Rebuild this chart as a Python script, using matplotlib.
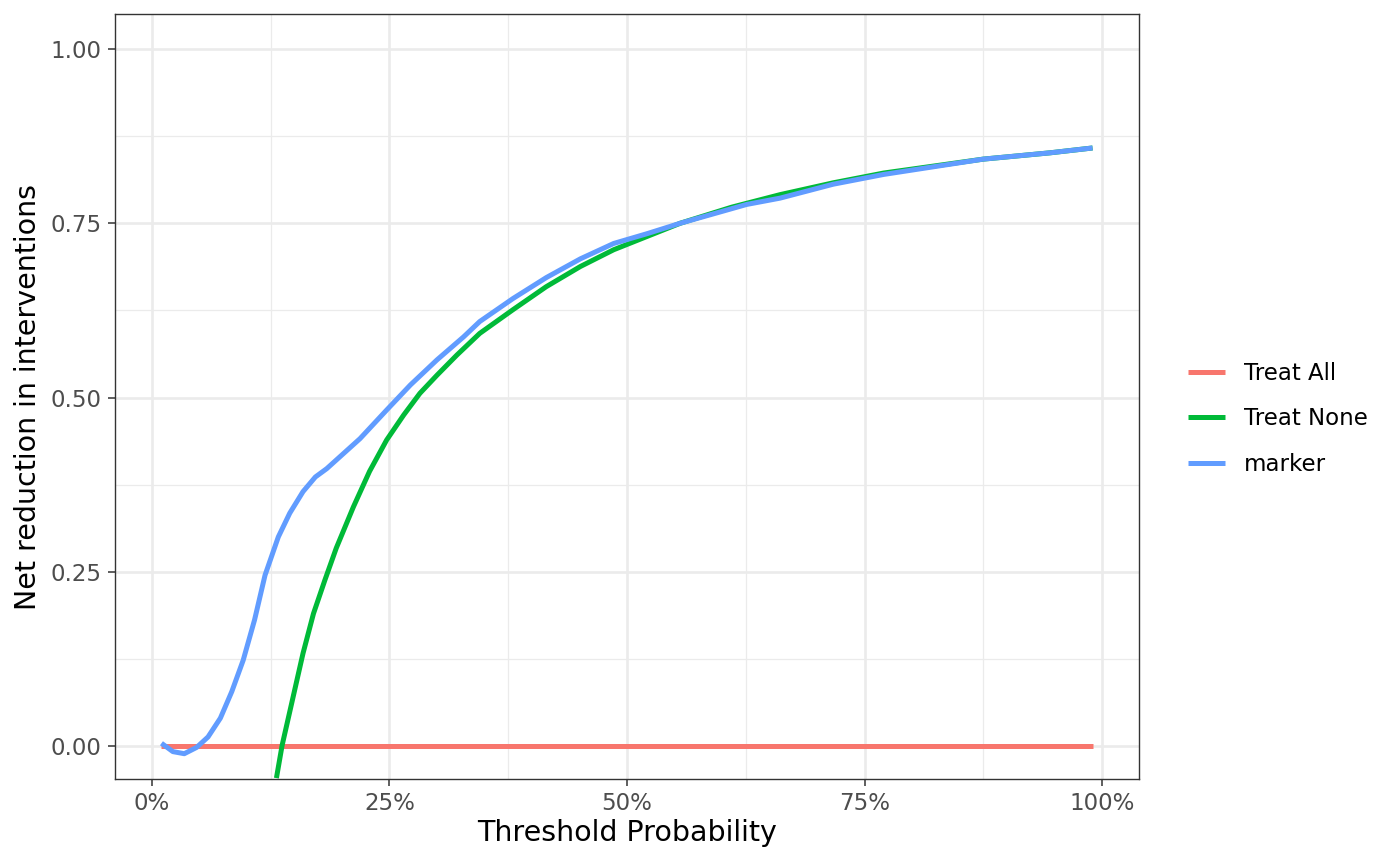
# %%
# Curva de decision: reduccion neta de intervenciones
import matplotlib.pyplot as plt
from matplotlib.ticker import FuncFormatter, MultipleLocator

# %%
# Datos (umbral en proporcion, valor neto)
treat_all_x = [0.01, 0.99]
treat_all_y = [0.0, 0.0]

treat_none_x = [0.131, 0.137, 0.147, 0.159, 0.170, 0.182, 0.194, 0.212, 0.229,
                0.247, 0.265, 0.282, 0.300, 0.321, 0.345, 0.380, 0.415, 0.451,
                0.486, 0.521, 0.556, 0.610, 0.661, 0.717, 0.770, 0.875, 0.945,
                0.990]
treat_none_y = [-0.046, 0.001, 0.061, 0.133, 0.190, 0.238, 0.284, 0.343, 0.394,
                0.439, 0.475, 0.506, 0.532, 0.561, 0.592, 0.626, 0.659, 0.688,
                0.712, 0.731, 0.750, 0.773, 0.791, 0.808, 0.822, 0.842, 0.851,
                0.858]

marker_x = [0.010, 0.022, 0.034, 0.047, 0.059, 0.072, 0.084, 0.096, 0.108,
            0.119, 0.133, 0.145, 0.159, 0.172, 0.184, 0.219, 0.247, 0.272,
            0.300, 0.328, 0.345, 0.380, 0.415, 0.451, 0.486, 0.521, 0.556,
            0.626, 0.661, 0.717, 0.770, 0.875, 0.945, 0.990]
marker_y = [0.004, -0.008, -0.011, -0.002, 0.013, 0.040, 0.078, 0.123, 0.181,
            0.245, 0.300, 0.334, 0.365, 0.386, 0.398, 0.441, 0.482, 0.518,
            0.554, 0.587, 0.609, 0.642, 0.672, 0.699, 0.721, 0.735, 0.750,
            0.777, 0.786, 0.806, 0.820, 0.842, 0.851, 0.858]

labels = ['Treat All', 'Treat None', 'marker']
colores = ['#F8766D', '#00BA38', '#619CFF']

# %%
fig = plt.figure(figsize=(14, 8.65), dpi=100)
ax = fig.add_axes([115/1400, 1 - 779/865, (1139 - 115)/1400, (779 - 14)/865])

ax.plot(treat_all_x, treat_all_y, color=colores[0], lw=3.6, label=labels[0],
        solid_capstyle='butt')
ax.plot(treat_none_x, treat_none_y, color=colores[1], lw=3.6, label=labels[1],
        solid_capstyle='butt')
ax.plot(marker_x, marker_y, color=colores[2], lw=3.6, label=labels[2],
        solid_capstyle='butt')

ax.set_xlim(-0.0389, 1.0389)
ax.set_ylim(-0.0473, 1.0502)

ax.xaxis.set_major_locator(MultipleLocator(0.25))
ax.xaxis.set_minor_locator(MultipleLocator(0.125))
ax.yaxis.set_major_locator(MultipleLocator(0.25))
ax.yaxis.set_minor_locator(MultipleLocator(0.125))
ax.xaxis.set_major_formatter(FuncFormatter(lambda v, p: '{:.0f}%'.format(v*100)))
ax.yaxis.set_major_formatter(FuncFormatter(lambda v, p: '{:.2f}'.format(v)))

ax.grid(which='major', color='#EBEBEB', lw=1.9)
ax.grid(which='minor', color='#EBEBEB', lw=0.9)
ax.set_axisbelow(True)

for s in ax.spines.values():
    s.set_color('#333333')
    s.set_linewidth(1.0)
ax.tick_params(which='major', length=5, width=1.1, color='#333333',
               labelcolor='#4D4D4D', labelsize=16.5, pad=4.5)
ax.tick_params(which='minor', length=0)

ax.set_xlabel('Threshold Probability', fontsize=20.5, labelpad=3)
ax.set_ylabel('Net reduction in interventions', fontsize=20.5, labelpad=6)

leg = ax.legend(loc='center left', bbox_to_anchor=(1188/1400, 1 - 419/865),
                bbox_transform=fig.transFigure, frameon=False, fontsize=16.5,
                borderpad=0, borderaxespad=0, handlelength=1.6,
                handletextpad=0.83, labelspacing=1.0)

fig.savefig('out.png', dpi=100)
